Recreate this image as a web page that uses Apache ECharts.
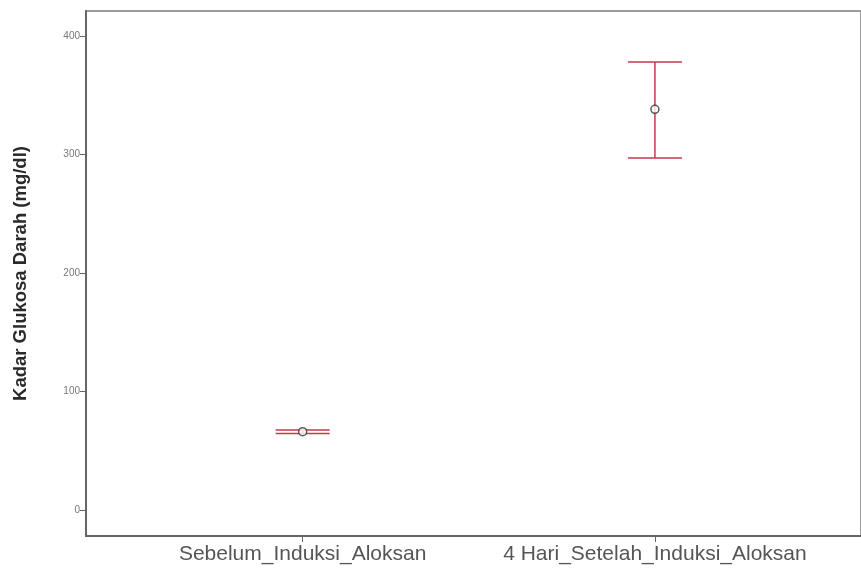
<!DOCTYPE html>
<html>
<head>
<meta charset="utf-8">
<script src="https://cdn.jsdelivr.net/npm/echarts@6/dist/echarts.min.js"></script>
<style>
  html, body { margin: 0; padding: 0; background: #fff; }
  #chart { width: 861px; height: 572px; }
</style>
</head>
<body>
<div id="chart"></div>
<script>
// data
const categories = ['Sebelum_Induksi_Aloksan', '4 Hari_Setelah_Induksi_Aloksan'];
const means = [66, 338];
const lowers = [64.5, 297];
const uppers = [67.5, 378];
const yTicks = [0, 100, 200, 300, 400];

const positions = categories.map((c, i) => i + 1);

const chart = echarts.init(document.getElementById('chart'));

const option = {
    backgroundColor: '#ffffff',
    animation: false,
    grid: {
        left: 86,
        top: 11,
        right: -6,
        bottom: 36,
        show: true,
        borderColor: '#9a9a9a',
        borderWidth: 2
    },
    xAxis: {
        type: 'value',
        min: 0.385,
        max: 2.585,
        axisLine: { show: true, onZero: false, lineStyle: { color: '#666', width: 2 } },
        axisTick: {
            show: true,
            length: 6,
            customValues: positions,
            lineStyle: { color: '#666' }
        },
        axisLabel: {
            customValues: positions,
            formatter: v => categories[Math.round(v) - 1] || '',
            color: '#555',
            fontFamily: 'Liberation Sans, Arial, sans-serif',
            fontSize: 21,
            margin: 8
        },
        splitLine: { show: false }
    },
    yAxis: {
        type: 'value',
        min: -22,
        max: 421,
        name: 'Kadar Glukosa Darah (mg/dl)',
        nameLocation: 'middle',
        nameGap: 56,
        nameTextStyle: {
            color: '#2a2a2a',
            fontFamily: 'Liberation Sans, Arial, sans-serif',
            fontSize: 18.5,
            fontWeight: 'bold'
        },
        axisLine: { show: true, lineStyle: { color: '#666', width: 2 } },
        axisTick: {
            show: true,
            length: 6,
            customValues: yTicks,
            lineStyle: { color: '#666' }
        },
        axisLabel: {
            customValues: yTicks,
            color: '#777',
            fontFamily: 'Liberation Sans, Arial, sans-serif',
            fontSize: 10,
            margin: 6
        },
        splitLine: { show: false }
    },
    series: [
        {
            // error bars
            type: 'custom',
            data: positions.map((p, i) => [p, lowers[i], uppers[i]]),
            renderItem: function (params, api) {
                const lo = api.coord([api.value(0), api.value(1)]);
                const hi = api.coord([api.value(0), api.value(2)]);
                const hw = 27;
                const style = { stroke: '#c23a4a', lineWidth: 1.5 };
                return {
                    type: 'group',
                    children: [
                        { type: 'line', shape: { x1: lo[0], y1: lo[1], x2: hi[0], y2: hi[1] }, style: style },
                        { type: 'line', shape: { x1: hi[0] - hw, y1: hi[1], x2: hi[0] + hw, y2: hi[1] }, style: style },
                        { type: 'line', shape: { x1: lo[0] - hw, y1: lo[1], x2: lo[0] + hw, y2: lo[1] }, style: style }
                    ]
                };
            },
            z: 2
        },
        {
            // means
            type: 'scatter',
            data: positions.map((p, i) => [p, means[i]]),
            symbol: 'circle',
            symbolSize: 8,
            itemStyle: { color: '#ffffff', borderColor: '#333', borderWidth: 1.5 },
            z: 3
        }
    ]
};

chart.setOption(option);
</script>
</body>
</html>
